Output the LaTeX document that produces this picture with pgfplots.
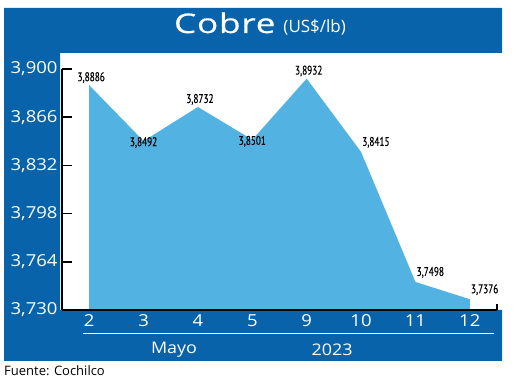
\documentclass[border=0pt]{standalone}
\usepackage{pgfplots}
\pgfplotsset{compat=1.18}
\usepackage{fontspec}
\setmainfont{Open Sans}
\newfontfamily\tickfont[FakeStretch=1.12]{Open Sans}
\newfontfamily\condfont[FakeStretch=0.74,FakeBold=0.4]{PT Sans}
\newfontfamily\titlefont[FakeStretch=1.3,LetterSpace=3,FakeBold=0.6]{Open Sans}
\definecolor{frameblue}{RGB}{8,99,170}
\definecolor{areablue}{RGB}{82,178,226}

\pgfplotstableread{
x y
0 3.8886
1 3.8492
2 3.8732
3 3.8501
4 3.8932
5 3.8415
6 3.7498
7 3.7376
}\cobre
\pgfplotstableread{
x y lab
0 3.8886 {3,8886}
2 3.8732 {3,8732}
4 3.8932 {3,8932}
}\above
\pgfplotstableread{
x y lab
1 3.8492 {3,8492}
3 3.8501 {3,8501}
}\below
\pgfplotstableread{
x y lab
5 3.8415 {3,8415}
6 3.7498 {3,7498}
7 3.7376 {3,7376}
}\right

\begin{document}
\begin{tikzpicture}
\path[use as bounding box, fill=white] (0pt,0pt) rectangle (520pt,382pt);
\fill[frameblue] (4pt,374pt) -- (502pt,374pt) -- (502pt,329pt) -- (60pt,329pt) -- (60pt,72pt) -- (502pt,72pt) -- (502pt,21pt) -- (4pt,21pt) -- cycle;
\node[white, anchor=base, inner sep=0pt] at (260pt,349pt) {{\titlefont\fontsize{27}{27}\selectfont Cobre}\hspace{8pt}{\fontsize{17}{17}\selectfont (US\$/lb)}};
\draw[white, line width=1pt] (83pt,48pt) -- (494pt,48pt);
\node[white, font=\tickfont\fontsize{16}{16}\selectfont] at (174pt,32pt) {Mayo};
\node[white, font=\tickfont\fontsize{16}{16}\selectfont] at (332pt,32pt) {2023};
\node[black, anchor=west, inner sep=0pt, font=\fontsize{13}{13}\selectfont] at (4pt,11pt) {Fuente: Cochilco};

\begin{axis}[
  at={(62pt,72pt)}, anchor=south west,
  scale only axis, width=435pt, height=241pt,
  xmin=-0.5, xmax=7.5, ymin=3.730, ymax=3.900,
  axis x line=bottom, axis y line=left,
  axis line style={line width=1.6pt, black, -},
  axis on top,
  xtick={0,1,2,3,4,5,6,7},
  xticklabels={2,3,4,5,9,10,11,12},
  x tick style={draw=none},
  ytick={3.730,3.764,3.798,3.832,3.866,3.900},
  yticklabels={{3,730},{3,764},{3,798},{3,832},{3,866},{3,900}},
  y tick style={black, line width=1.6pt},
  tick align=inside, major tick length=10pt,
  ticklabel style={white, font=\tickfont\fontsize{16.5}{16.5}\selectfont},
  yticklabel style={xshift=-1pt},
  xticklabel style={yshift=-1pt},
  clip=false,
]
\addplot[fill=areablue, draw=none] table[x=x, y=y] {\cobre} \closedcycle;
\addplot[draw=none, mark=none, nodes near coords, point meta=explicit symbolic,
  every node near coord/.style={anchor=south, black, inner sep=2pt, xshift=2pt, font=\condfont\fontsize{12.5}{12.5}\selectfont}]
  table[x=x, y=y, meta=lab] {\above};
\addplot[draw=none, mark=none, nodes near coords, point meta=explicit symbolic,
  every node near coord/.style={anchor=north, black, inner sep=0pt, yshift=4pt, font=\condfont\fontsize{12.5}{12.5}\selectfont}]
  table[x=x, y=y, meta=lab] {\below};
\addplot[draw=none, mark=none, nodes near coords, point meta=explicit symbolic,
  every node near coord/.style={anchor=south west, black, inner sep=2pt, xshift=-1pt, yshift=2pt, font=\condfont\fontsize{12.5}{12.5}\selectfont}]
  table[x=x, y=y, meta=lab] {\right};
\draw[line width=1.6pt] (axis cs:7.5,3.7300) -- (axis cs:7.5,3.7345);
\end{axis}
\end{tikzpicture}
\end{document}
